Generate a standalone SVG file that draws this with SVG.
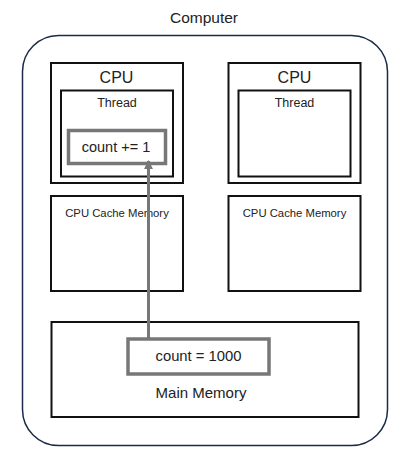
<svg xmlns="http://www.w3.org/2000/svg" width="404" height="458" viewBox="0 0 404 458">
<style>
text{font-family:"Liberation Sans",Arial,sans-serif;fill:#222;text-anchor:middle}
.box{fill:none;stroke:#111;stroke-width:2}
.var{fill:#fff;stroke:#777;stroke-width:3.5}
</style>
<defs>
<marker id="ah" viewBox="0 0 10 10" refX="9" refY="5" markerWidth="3" markerHeight="3" orient="auto">
<path d="M0,0 L10,5 L0,10 z" fill="#777"/>
</marker>
</defs>
<rect width="404" height="458" fill="#fff"/>
<g id="computer">
<text x="204" y="23" font-size="15.5">Computer</text>
<rect x="22.5" y="35.5" width="365" height="410" rx="36" fill="none" stroke="#1b2a48" stroke-width="1.5"/>
</g>
<g id="cpu1">
<rect class="box" x="51" y="63" width="132" height="120"/>
<text x="116.5" y="83" font-size="16">CPU</text>
</g>
<g id="thread1">
<rect class="box" x="61" y="90.5" width="112" height="86"/>
<text x="117" y="107" font-size="12.5">Thread</text>
</g>
<g id="cpu2">
<rect class="box" x="228.5" y="63" width="132" height="120"/>
<text x="294.5" y="83" font-size="16">CPU</text>
</g>
<g id="thread2">
<rect class="box" x="238.5" y="90.5" width="112" height="86" stroke-width="2.5"/>
<text x="294.5" y="107" font-size="12.5">Thread</text>
</g>
<g id="cache1">
<rect class="box" x="51" y="196" width="132" height="95"/>
<text x="117" y="217" font-size="11.3">CPU Cache Memory</text>
</g>
<g id="cache2">
<rect class="box" x="228.5" y="196" width="132" height="95"/>
<text x="294.5" y="217" font-size="11.3">CPU Cache Memory</text>
</g>
<g id="mainmem">
<rect class="box" x="51.5" y="322" width="307" height="95"/>
<text x="201" y="398" font-size="15">Main Memory</text>
</g>
<g id="countinc">
<rect class="var" x="68.5" y="130.5" width="97" height="33"/>
<text x="116" y="152" font-size="14.5">count += 1</text>
</g>
<g id="count1000">
<rect class="var" x="128" y="339" width="141" height="35"/>
<text x="198.5" y="361" font-size="14.8">count = 1000</text>
</g>
<g id="connectors">
<line x1="148.5" y1="338" x2="148.5" y2="161" stroke="#777" stroke-width="3" marker-end="url(#ah)"/>
</g>
</svg>
